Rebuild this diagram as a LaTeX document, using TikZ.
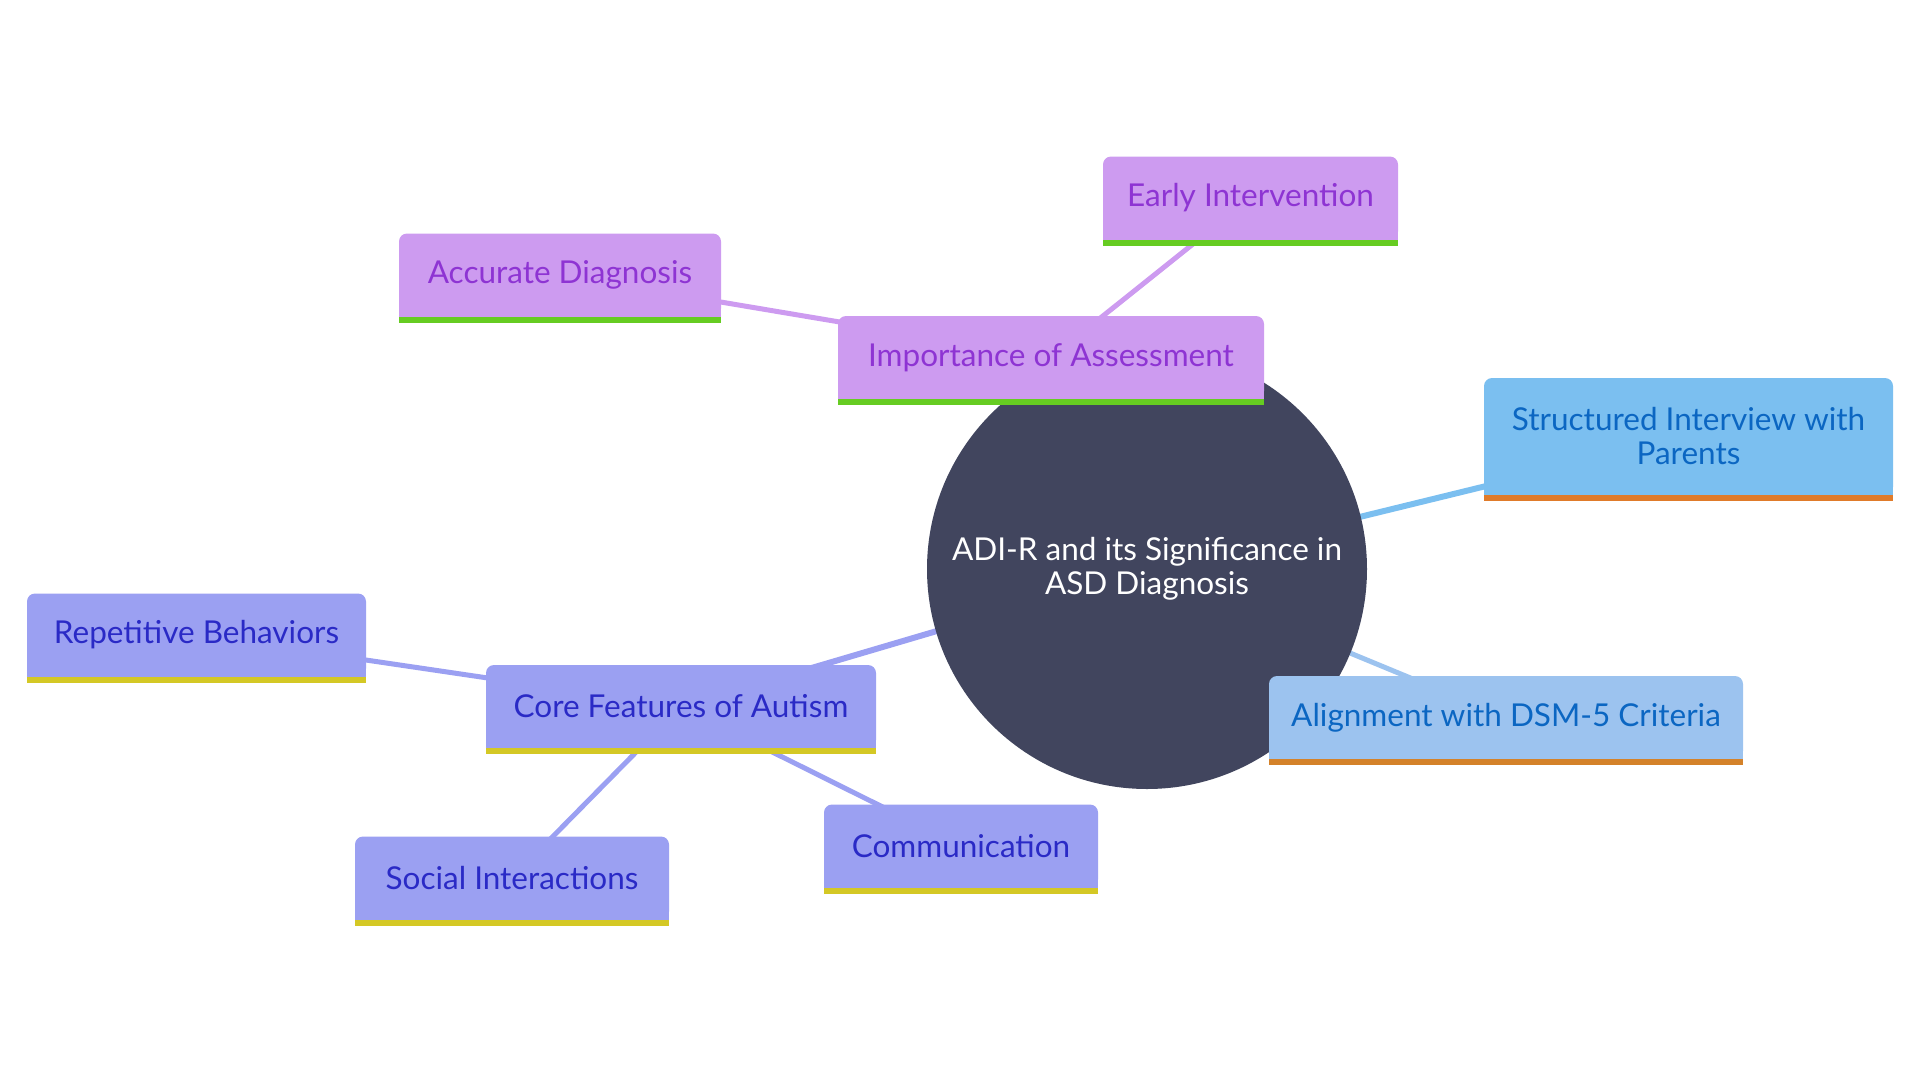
\documentclass[tikz,border=0pt]{standalone}
\usepackage{fontspec}
\setmainfont{Lato}
\pgfdeclarelayer{edges}
\pgfdeclarelayer{circ}
\pgfdeclarelayer{boxes}
\pgfsetlayers{edges,circ,boxes,main}
\definecolor{rootc}{HTML}{41455E}
\definecolor{pfill}{HTML}{CD9BF0}
\definecolor{ptext}{HTML}{8E34D3}
\definecolor{pbar}{HTML}{66CC22}
\definecolor{bfillA}{HTML}{7BBFF0}
\definecolor{bfillB}{HTML}{9CC3EF}
\definecolor{btext}{HTML}{0B66C2}
\definecolor{bbar}{HTML}{E07B2A}
\definecolor{bbarB}{HTML}{D4822A}
\definecolor{vfill}{HTML}{9BA0F2}
\definecolor{vtext}{HTML}{2A2AC6}
\definecolor{vbar}{HTML}{D4C825}
\newcommand\mmbox[3]{%
  \fill[#2, rounded corners=8pt] (#1.south west) rectangle (#1.north east);
  \fill[#2] (#1.south west) rectangle (#1.east);
  \fill[#3] (#1.south west) rectangle ([yshift=-6pt]#1.south east);}
\begin{document}
\begin{tikzpicture}[x=1pt,y=-1pt,
  txt/.style={inner sep=0pt, outer sep=0pt, align=center, font=\fontsize{31.5pt}{34pt}\selectfont},
  mbox/.style={txt, rectangle, minimum height=83pt},
  edgeA/.style={line width=6pt},
  edgeB/.style={line width=5pt}]
\useasboundingbox (0,0) rectangle (1920,1080);
% nodes (text)
\node[txt, circle, minimum size=440pt, text=white] (root) at (1147,569) {ADI-R and its Significance in\\ASD Diagnosis};
\node[mbox, minimum width=426pt, text=ptext] (ia) at (1051,357.5) {Importance of Assessment};
\node[mbox, minimum width=295pt, text=ptext] (ei) at (1250.5,198) {Early Intervention};
\node[mbox, minimum width=322pt, text=ptext] (ad) at (560,275) {Accurate Diagnosis};
\node[mbox, minimum width=409pt, minimum height=117pt, text=btext] (si) at (1688.5,436.5) {Structured Interview with\\Parents};
\node[mbox, minimum width=474pt, text=btext] (al) at (1506,717.5) {Alignment with DSM-5 Criteria};
\node[mbox, minimum width=390pt, text=vtext] (cf) at (681,706.5) {Core Features of Autism};
\node[mbox, minimum width=339pt, text=vtext] (rb) at (196.5,635) {Repetitive Behaviors};
\node[mbox, minimum width=314pt, text=vtext] (so) at (512,878) {Social Interactions};
\node[mbox, minimum width=274pt, text=vtext] (co) at (961,846) {Communication};
% edges
\begin{pgfonlayer}{edges}
\draw[edgeA, pfill] (root.center) -- (ia.center);
\draw[edgeB, pfill] (ia.center) -- (ei.center);
\draw[edgeB, pfill] (ia.center) -- (ad.center);
\draw[edgeA, bfillA] (root.center) -- (si.center);
\draw[edgeB, bfillB] (root.center) -- (al.center);
\draw[edgeA, vfill] (root.center) -- (cf.center);
\draw[edgeB, vfill] (cf.center) -- (rb.center);
\draw[edgeB, vfill] (cf.center) -- (so.center);
\draw[edgeB, vfill] (cf.center) -- (co.center);
\end{pgfonlayer}
\begin{pgfonlayer}{circ}
\fill[rootc] (root.center) circle[radius=220pt];
\end{pgfonlayer}
\begin{pgfonlayer}{boxes}
\mmbox{ia}{pfill}{pbar}
\mmbox{ei}{pfill}{pbar}
\mmbox{ad}{pfill}{pbar}
\mmbox{si}{bfillA}{bbar}
\mmbox{al}{bfillB}{bbarB}
\mmbox{cf}{vfill}{vbar}
\mmbox{rb}{vfill}{vbar}
\mmbox{so}{vfill}{vbar}
\mmbox{co}{vfill}{vbar}
\end{pgfonlayer}
\end{tikzpicture}
\end{document}
